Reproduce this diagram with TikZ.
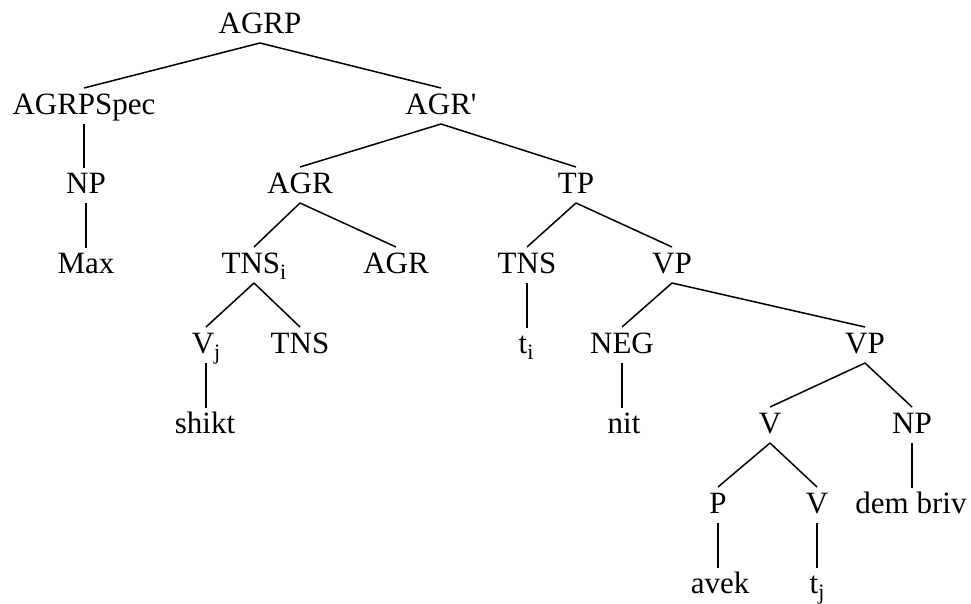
\documentclass[tikz,border=0pt]{standalone}
\usepackage{fontspec}
\setmainfont{Liberation Serif}
\newcommand{\straightq}{\XeTeXglyph\XeTeXcharglyph"0027\relax}
\newcommand{\lowsub}[1]{\raisebox{-6pt}{\fontsize{22}{24}\selectfont #1}}
\tikzset{
  lbl/.style={anchor=base, inner sep=0pt, font=\fontsize{31}{36}\selectfont},
  edge/.style={line width=1.5pt, black},
  vedge/.style={line width=1.9pt, black}
}
\begin{document}
\begin{tikzpicture}[x=1pt,y=-1pt]
\useasboundingbox (0,0) rectangle (971,603);
\node[lbl] (agrp) at (260,33) {AGRP};
\node[lbl] (spec) at (84,114) {AGRPSpec};
\node[lbl] (agrbar) at (441,114) {AGR\straightq};
\node[lbl] (np1) at (86,193) {NP};
\node[lbl] (agr1) at (300,193) {AGR};
\node[lbl] (tp) at (576,193) {TP};
\node[lbl] (max) at (86,273) {Max};
\node[lbl] (tnsi) at (254,273) {TNS\lowsub{i}};
\node[lbl] (agr2) at (396,273) {AGR};
\node[lbl] (tns2) at (527,273) {TNS};
\node[lbl] (vp1) at (672,273) {VP};
\node[lbl] (vj) at (206,353) {V\lowsub{j}};
\node[lbl] (tns3) at (300,353) {TNS};
\node[lbl] (ti) at (526,353) {t\lowsub{i}};
\node[lbl] (neg) at (622,353) {NEG};
\node[lbl] (vp2) at (865,353) {VP};
\node[lbl] (shikt) at (205,433) {shikt};
\node[lbl] (nit) at (624,433) {nit};
\node[lbl] (v1) at (770,433) {V};
\node[lbl] (np2) at (912,433) {NP};
\node[lbl] (p) at (718,513) {P};
\node[lbl] (v2) at (817,513) {V};
\node[lbl] (dem) at (911,513) {dem briv};
\node[lbl] (avek) at (720,593) {avek};
\node[lbl] (tj) at (817,593) {t\lowsub{j}};
% diagonal edges
\foreach \a/\b in {agrp/spec, agrp/agrbar, agrbar/agr1, agrbar/tp, agr1/tnsi, agr1/agr2,
  tp/tns2, tp/vp1, tnsi/vj, tnsi/tns3, vp1/neg, vp1/vp2, vp2/v1, vp2/np2, v1/p, v1/v2}
  \draw[edge] ([yshift=-10pt]\a.base) -- ([yshift=26pt]\b.base);
% vertical edges
\draw[vedge] ([yshift=-10pt]spec.base) -- ([yshift=25pt]spec.base |- np1.base);
\draw[vedge] ([yshift=-10pt]np1.base) -- ([yshift=25pt]np1.base |- max.base);
\draw[vedge] ([yshift=-10pt]vj.base) -- ([yshift=25pt]vj.base |- shikt.base);
\draw[vedge] ([yshift=-10pt]tns2.base) -- ([yshift=25pt]tns2.base |- ti.base);
\draw[vedge] ([yshift=-10pt]neg.base) -- ([yshift=25pt]neg.base |- nit.base);
\draw[vedge] ([yshift=-10pt]np2.base) -- ([yshift=25pt]np2.base |- dem.base);
\draw[vedge] ([yshift=-10pt]p.base) -- ([yshift=25pt]p.base |- avek.base);
\draw[vedge] ([yshift=-10pt]v2.base) -- ([yshift=25pt]v2.base |- tj.base);
\end{tikzpicture}
\end{document}
